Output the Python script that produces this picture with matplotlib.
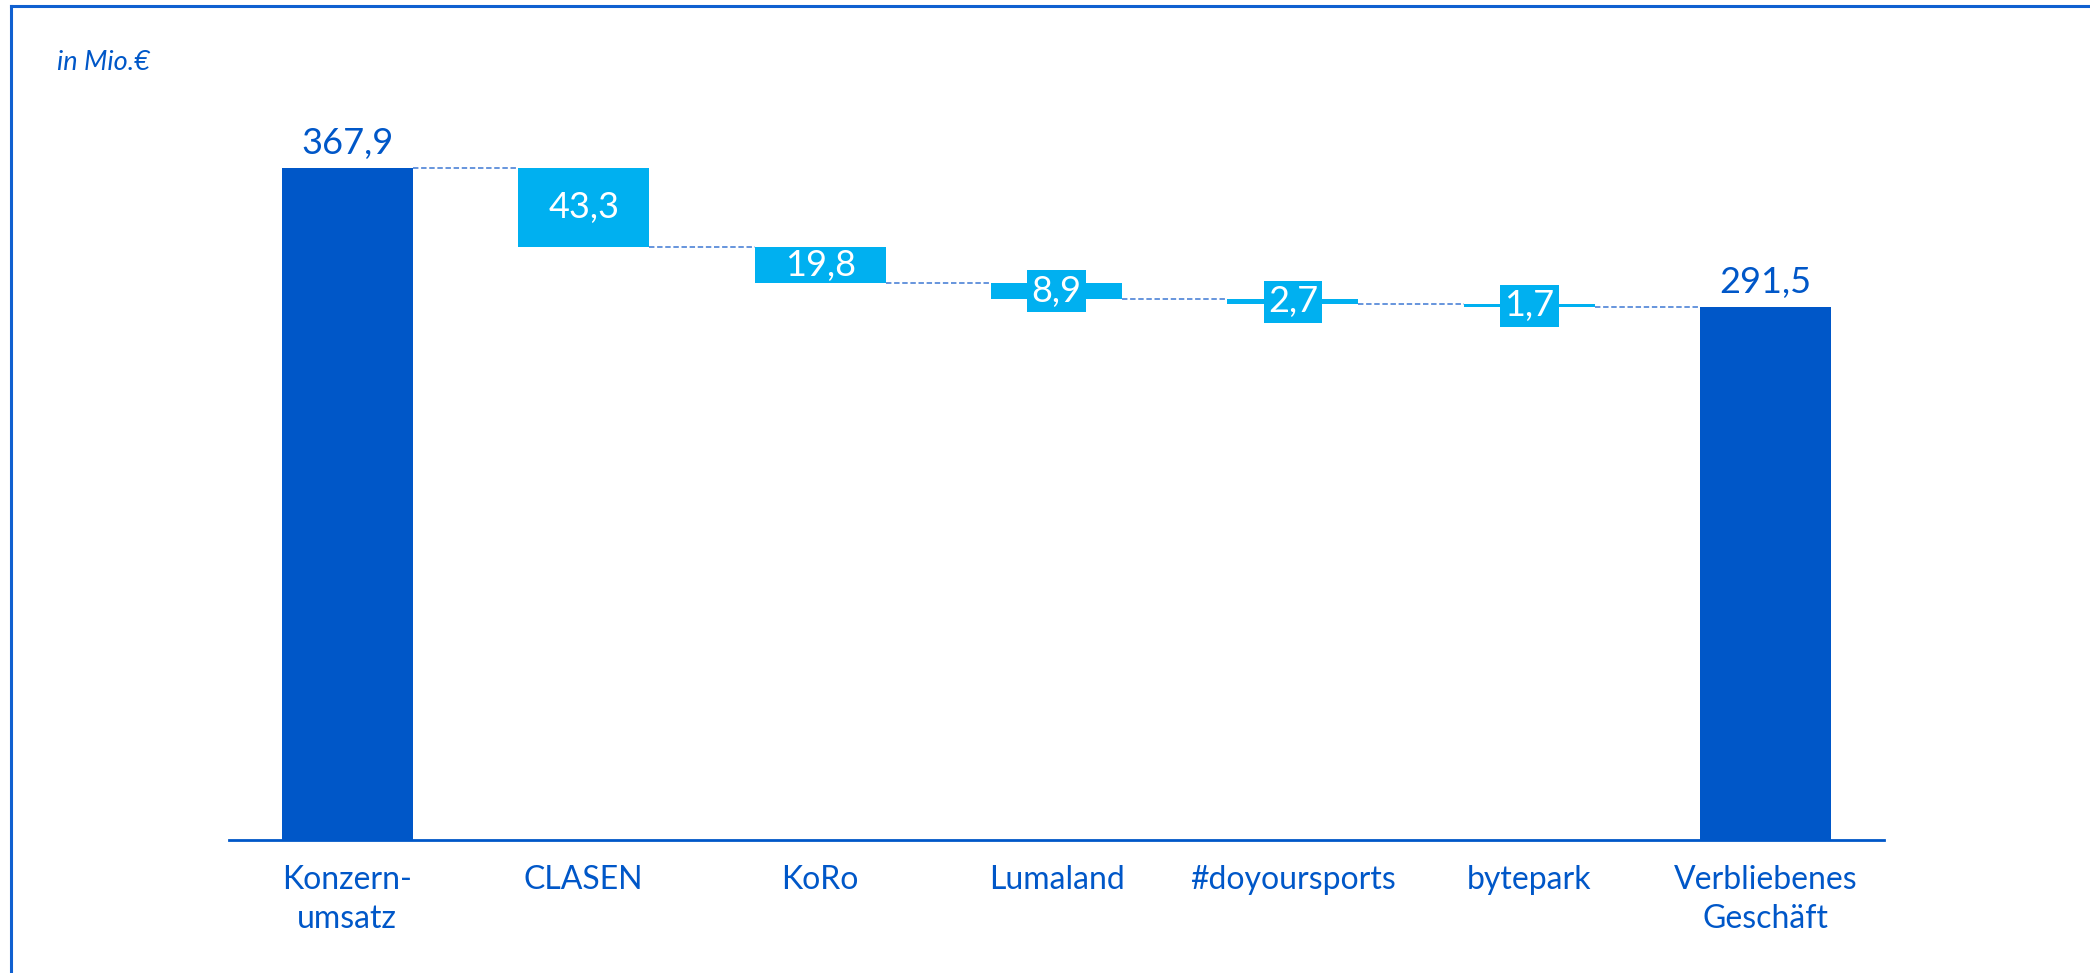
import matplotlib
matplotlib.use("Agg")
import matplotlib.pyplot as plt
from matplotlib.lines import Line2D

plt.rcParams['font.family'] = ['Lato', 'DejaVu Sans']

categories = ["Konzern-\numsatz", "CLASEN", "KoRo", "Lumaland", "#doyoursports", "bytepark", "Verbliebenes\nGeschäft"]
start_value = 367.9
deltas = [43.3, 19.8, 8.9, 2.7, 1.7]
end_value = 291.5
value_labels = ["367,9", "43,3", "19,8", "8,9", "2,7", "1,7", "291,5"]
unit_label = "in Mio.€"

DARK = "#0057C8"
CYAN = "#00B0F0"
DASH = "#5A8CDA"

W, H = 2090, 973
fig = plt.figure(figsize=(W / 100, H / 100), dpi=100)
fig.patch.set_facecolor("white")

ax = fig.add_axes([229 / W, 1 - 840 / H, (1884 - 229) / W, 730.8 / H])
ax.set_xlim(-0.5, 6.5)
ax.set_ylim(0, 400)

bw = 0.554
xs = list(range(len(categories)))

# totals
ax.bar(xs[0], start_value, width=bw, color=DARK, zorder=2)
ax.bar(xs[-1], end_value, width=bw, color=DARK, zorder=2)

# deltas
level = start_value
levels = [start_value]
for i, d in enumerate(deltas):
    x = xs[i + 1]
    ax.bar(x, d, bottom=level - d, width=bw, color=CYAN, zorder=2)
    kw = {}
    if d < 15:
        kw["bbox"] = dict(boxstyle="square,pad=0.12", fc=CYAN, ec="none")
    ax.text(x, level - d / 2, value_labels[i + 1], color="white", fontsize=26,
            ha="center", va="center", zorder=4, **kw)
    level -= d
    levels.append(level)

# connectors
for i in range(len(xs) - 1):
    y = levels[i]
    ax.plot([xs[i] + bw / 2, xs[i + 1] - bw / 2], [y, y], color=DASH,
            lw=1.3, linestyle=(0, (3, 1.5)), zorder=1)

# total labels
ax.annotate(value_labels[0], (xs[0], start_value), xytext=(0, 6), textcoords="offset points",
            ha="center", va="bottom", fontsize=26, color=DARK)
ax.annotate(value_labels[-1], (xs[-1], end_value), xytext=(0, 6), textcoords="offset points",
            ha="center", va="bottom", fontsize=26, color=DARK)

ax.set_xticks(xs)
ax.set_xticklabels(categories, fontsize=23, color=DARK, linespacing=1.38)
ax.tick_params(axis="x", length=0, pad=18)
ax.set_yticks([])
for s in ["top", "right", "left"]:
    ax.spines[s].set_visible(False)
ax.spines["bottom"].set_color(DARK)
ax.spines["bottom"].set_linewidth(2)
ax.set_facecolor("none")

fig.text(57 / W, 1 - 70 / H, unit_label, fontsize=19.5, style="italic", color=DARK,
         ha="left", va="baseline")

# frame (top and left)
fig.add_artist(Line2D([11 / W, 1], [1 - 6 / H, 1 - 6 / H], transform=fig.transFigure,
                      color="#1060D0", lw=2.2))
fig.add_artist(Line2D([11 / W, 11 / W], [0, 1 - 6 / H], transform=fig.transFigure,
                      color="#1060D0", lw=2.2))

fig.savefig("out.png", dpi=100)
